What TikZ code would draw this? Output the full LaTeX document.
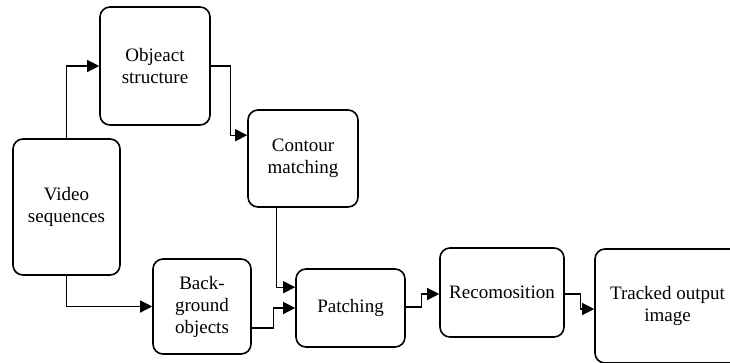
\documentclass[tikz,border=0pt]{standalone}
\usepackage{fontspec}
\setmainfont{Liberation Serif}
\usetikzlibrary{arrows.meta}
\tikzset{
	blk/.style={draw, line width=1.6pt, rounded corners=10pt, align=center, inner sep=0pt, font=\rmfamily\fontsize{19}{22}\selectfont},
	arr/.style={line width=1.3pt, -{Triangle[length=12pt,width=12pt]}}
}
\begin{document}
\begin{tikzpicture}[x=1pt, y=-1pt]
		\useasboundingbox (0, 0) rectangle (730, 362);
		\clip (0, 0) rectangle (730, 362);
		\node[blk, minimum width=110pt, minimum height=118pt] (obj) at (155, 66) {Objeact\\structure};
		\node[blk, minimum width=107pt, minimum height=136pt] (video) at (66.5, 207) {Video\\sequences};
		\node[blk, minimum width=110pt, minimum height=97pt] (contour) at (303, 158.5) {Contour\\matching};
		\node[blk, minimum width=98pt, minimum height=95pt] (bg) at (202, 306.5) {Back-\\ground\\objects};
		\node[blk, minimum width=109pt, minimum height=78pt] (patch) at (350.5, 308) {Patching};
		\node[blk, minimum width=124pt, minimum height=89pt] (recomp) at (502, 292.5) {Recomosition};
		\node[blk, minimum width=145pt, minimum height=114pt] (tracked) at (667.5, 306) {Tracked output\\image};
		\draw[arr] (video.north) |- (obj.west);
		\draw[arr] (obj.east) -- ++(20, 0) |- ([yshift=-26pt]contour.north west);
		\draw[arr] (video.south) |- (bg.west);
		\draw[arr] ([xshift=29pt]contour.south west) |- ([yshift=-19pt]patch.north west);
		\draw[arr] ([yshift=-21.5pt]bg.east) -- ++(22, 0) |- (patch.west);
		\draw[arr] ([yshift=1pt]patch.east) -- ++(16, 0) |- ([yshift=-1.5pt]recomp.west);
		\draw[arr] ([yshift=-1.5pt]recomp.east) -- ++(16, 0) |- ([yshift=-3pt]tracked.west);
	\end{tikzpicture}
\end{document}
